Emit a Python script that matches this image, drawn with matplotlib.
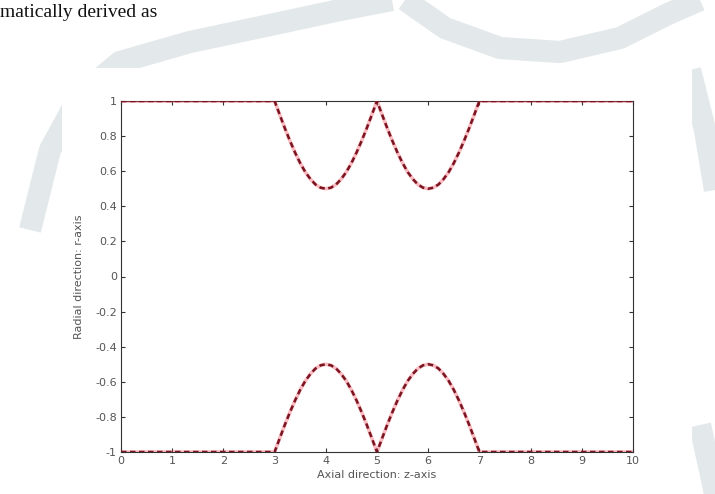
import matplotlib
matplotlib.use("Agg")
import matplotlib.pyplot as plt
from matplotlib.patches import Rectangle
from matplotlib.lines import Line2D

# Axial positions (z) and radial boundary (r) of the profile
z_axis = [round(0.1 * i, 1) for i in range(101)]

r_upper = ([1.0] * 31 +
           [0.922, 0.845, 0.773, 0.706, 0.646, 0.595, 0.555, 0.524, 0.506, 0.500,
            0.506, 0.524, 0.555, 0.595, 0.646, 0.706, 0.773, 0.845, 0.922, 1.000,
            0.922, 0.845, 0.773, 0.706, 0.646, 0.595, 0.555, 0.524, 0.506, 0.500,
            0.506, 0.524, 0.555, 0.595, 0.646, 0.706, 0.773, 0.845, 0.922, 1.000] +
           [1.0] * 30)

r_lower = ([-1.0] * 31 +
           [-0.922, -0.845, -0.773, -0.706, -0.646, -0.595, -0.555, -0.524, -0.506, -0.500,
            -0.506, -0.524, -0.555, -0.595, -0.646, -0.706, -0.773, -0.845, -0.922, -1.000,
            -0.922, -0.845, -0.773, -0.706, -0.646, -0.595, -0.555, -0.524, -0.506, -0.500,
            -0.506, -0.524, -0.555, -0.595, -0.646, -0.706, -0.773, -0.845, -0.922, -1.000] +
           [-1.0] * 30)

x_ticks = [0, 1, 2, 3, 4, 5, 6, 7, 8, 9, 10]
y_ticks = [-1, -0.8, -0.6, -0.4, -0.2, 0, 0.2, 0.4, 0.6, 0.8, 1]
y_tick_labels = ["-1", "-0.8", "-0.6", "-0.4", "-0.2", "0", "0.2", "0.4", "0.6", "0.8", "1"]

W, H = 715, 494
fig = plt.figure(figsize=(W / 100, H / 100), dpi=100)
fig.patch.set_facecolor("white")

def px(x, y):
    return x / W, 1 - y / H

# faint page watermark behind the figure
wm = "#e3e8ea"
bands = [
    [(30, 230), (50, 150), (80, 95), (120, 62), (190, 42), (270, 25), (340, 10), (392, 0)],
    [(405, 0), (445, 28), (500, 48), (560, 52), (620, 38), (668, 14), (700, 0)],
    [(690, 70), (705, 130), (715, 190)],
    [(700, 425), (710, 470), (715, 494)],
]
for band in bands:
    xs, ys = zip(*[px(x, y) for x, y in band])
    fig.add_artist(Line2D(xs, ys, transform=fig.transFigure, color=wm,
                          lw=16, solid_capstyle="butt", solid_joinstyle="round", zorder=0))

# white figure panel
x0, y0 = px(62, H)
x1, y1 = px(692, 68)
fig.add_artist(Rectangle((x0, y0), x1 - x0, y1 - y0, transform=fig.transFigure,
                         facecolor="white", edgecolor="none", zorder=1))

fig.text(0.0, 1 - 17 / H, "matically derived as", family="Liberation Serif",
         fontsize=14, color="#111111", ha="left", va="baseline")

ax = fig.add_axes([121 / W, 42 / H, 512 / W, 351 / H])
ax.set_zorder(2)
ax.set_facecolor("white")

for r in (r_upper, r_lower):
    ax.plot(z_axis, r, color="#f04050", lw=2.6, alpha=0.35, zorder=3,
            solid_capstyle="round")
    ax.plot(z_axis, r, color="#7a1420", lw=1.8, ls=(0, (2.2, 1.4)), zorder=4)

ax.set_xlim(0, 10)
ax.set_ylim(-1, 1)
ax.set_xticks(x_ticks)
ax.set_yticks(y_ticks)
ax.set_yticklabels(y_tick_labels)
ax.tick_params(direction="in", length=3, width=0.8, top=True, right=True,
               labelsize=8, labelcolor="#555555", color="#333333", pad=3)
for s in ax.spines.values():
    s.set_linewidth(0.8)
    s.set_color("#333333")

ax.set_xlabel("Axial direction: z-axis", fontsize=8, color="#555555", labelpad=3)
ax.set_ylabel("Radial direction: r-axis", fontsize=8, color="#555555", labelpad=8)

fig.savefig("out.png", dpi=100)
